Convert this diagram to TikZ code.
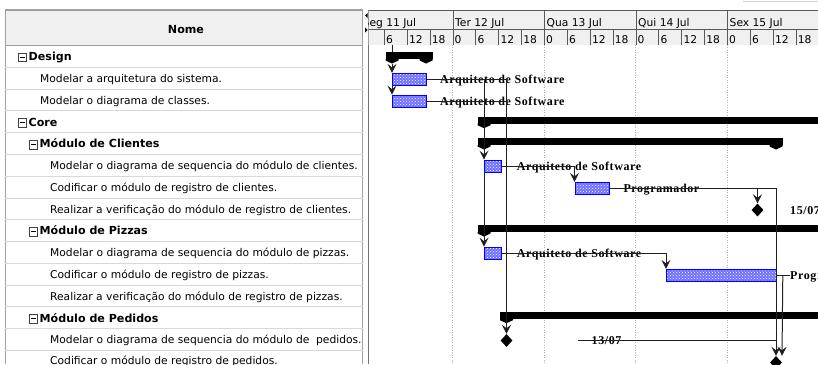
\documentclass[tikz,border=0pt]{standalone}
\usepackage{fontspec}
\setmainfont{DejaVu Sans}
\newfontfamily\lblfont[LetterSpace=5]{Liberation Serif}
\usepackage{tikz}
\usetikzlibrary{arrows.meta,patterns,shapes.geometric}

\definecolor{hdrgray}{HTML}{F0F0F0}
\definecolor{rowgray}{HTML}{D8D8D8}
\definecolor{framegray}{HTML}{A0A0A0}
\definecolor{barblue}{HTML}{7070FF}
\definecolor{linkgray}{HTML}{202020}

\tikzset{
	tname/.style={anchor=base west,inner sep=0pt,font=\fontsize{10.7}{12}\selectfont},
	gname/.style={anchor=base west,inner sep=0pt,font=\fontsize{11.1}{12}\selectfont\bfseries},
	minusbox/.style={draw=black!75,line width=0.7pt,minimum size=8.5pt,inner sep=0pt,
		path picture={\draw[black,line width=0.9pt] ([xshift=1.8pt]path picture bounding box.west) -- ([xshift=-1.8pt]path picture bounding box.east);}},
	scaletxt/.style={anchor=base west,inner sep=0pt,font=\fontsize{10.7}{12}\selectfont},
	taskbar/.style={anchor=west,draw=blue,line width=0.8pt,inner sep=0pt,minimum height=12.4pt,
		preaction={fill=barblue},pattern=crosshatch dots,pattern color=white},
	mstone/.style={diamond,fill=black,inner sep=0pt,minimum width=12pt,minimum height=13pt},
	res/.style={anchor=base west,inner sep=0pt,font=\lblfont\fontsize{12}{13}\selectfont\bfseries},
	link/.style={linkgray,line width=1pt},
	arr/.style={link,-{Stealth[length=9pt,width=9pt,inset=3.5pt]}},
}

% summary bar: name, start, end, top
\newcommand{\sumbar}[4]{%
	\fill (#2-6.5,#4) rectangle (#3+6.5,#4+7);
	\fill (#2-6.5,#4+7) -- (#2-6.5,#4+8.5) -- (#2,#4+11.5) -- (#2+6.5,#4+8.5) -- (#2+6.5,#4+7) -- cycle;
	\fill (#3-6.5,#4+7) -- (#3-6.5,#4+8.5) -- (#3,#4+11.5) -- (#3+6.5,#4+8.5) -- (#3+6.5,#4+7) -- cycle;
	\coordinate (#1-t) at (#2,#4);
	\coordinate (#1-s) at (#2,#4+11.5);
}

\begin{document}
\begin{tikzpicture}[x=1pt,y=-1pt]
	\useasboundingbox (0,0) rectangle (818,364);
	\fill[white] (0,0) rectangle (818,364);
	\draw[gray!35] (743,0.7) -- (818,0.7);
	%
	% table
	\fill[hdrgray] (5,10) rectangle (362.5,45.3);
	\draw[framegray,line width=1.5pt] (5,10) -- (362.5,10);
	\draw[framegray] (5,10) -- (5,364);
	\draw[framegray] (362.5,10) -- (362.5,364);
	\draw[framegray] (5,45.3) -- (362.5,45.3);
	\draw[rowgray] (5,67.07) -- (362.5,67.07) (5,88.84) -- (362.5,88.84) (5,110.6) -- (362.5,110.6)
		(5,132.4) -- (362.5,132.4) (5,154.2) -- (362.5,154.2) (5,175.9) -- (362.5,175.9)
		(5,197.7) -- (362.5,197.7) (5,219.5) -- (362.5,219.5) (5,241.2) -- (362.5,241.2)
		(5,263.0) -- (362.5,263.0) (5,284.8) -- (362.5,284.8) (5,306.5) -- (362.5,306.5)
		(5,328.3) -- (362.5,328.3) (5,350.1) -- (362.5,350.1);
	\node[gname,anchor=base] (nome) at (186,33.3) {Nome};
	\begin{scope}
	\clip (5,45.3) rectangle (362,364);
	\node[minusbox] (b0) at (22.5,57.5) {};
	\node[gname] (t0) at (28.5,60.8) {Design};
	\node[tname] (t1) at (40,82.55) {Modelar a arquitetura do sistema.};
	\node[tname] (t2) at (40,104.3) {Modelar o diagrama de classes.};
	\node[minusbox] (b3) at (22.5,122.8) {};
	\node[gname] (t3) at (28.5,126.1) {Core};
	\node[minusbox] (b4) at (33.5,144.6) {};
	\node[gname] (t4) at (39.5,147.9) {Módulo de Clientes};
	\node[tname] (t5) at (50,169.6) {Modelar o diagrama de sequencia do módulo de clientes.};
	\node[tname] (t6) at (50,191.4) {Codificar o módulo de registro de clientes.};
	\node[tname] (t7) at (50,213.2) {Realizar a verificação do módulo de registro de clientes.};
	\node[minusbox] (b8) at (33.5,231.6) {};
	\node[gname] (t8) at (39.5,234.9) {Módulo de Pizzas};
	\node[tname] (t9) at (50,256.7) {Modelar o diagrama de sequencia do módulo de pizzas.};
	\node[tname] (t10) at (50,278.5) {Codificar o módulo de registro de pizzas.};
	\node[tname] (t11) at (50,300.3) {Realizar a verificação do módulo de registro de pizzas.};
	\node[minusbox] (b12) at (33.5,318.7) {};
	\node[gname] (t12) at (39.5,322.0) {Módulo de Pedidos};
	\node[tname] (t13) at (50,343.8) {Modelar o diagrama de sequencia do módulo de\ \ pedidos.};
	\node[tname] (t14) at (50,364.5) {Codificar o módulo de registro de pedidos.};
	\end{scope}
	%
	% splitter
	\fill (367.5,13) -- (365,15.5) -- (367.5,18) -- cycle;
	\fill (365,27.5) -- (367.5,30) -- (365,32.5) -- cycle;
	\draw[black!55] (368,10) -- (368,364);
	%
	% time scale
	\begin{scope}
	\clip (368.5,8) rectangle (818,364);
	\fill[hdrgray] (368,10) rectangle (818,44.5);
	\draw[black!65] (368,10) -- (818,10);
	\draw[black!65] (368,29.3) -- (818,29.3);
	\draw[black!65] (452.7,10) -- (452.7,44.5) (544.2,10) -- (544.2,44.5) (635.7,10) -- (635.7,44.5) (727.2,10) -- (727.2,44.5);
	\draw[black!65] (384.1,29.3) -- (384.1,44.5) (407,29.3) -- (407,44.5) (429.8,29.3) -- (429.8,44.5);
	\draw[black!65] (475.6,29.3) -- (475.6,44.5) (498.5,29.3) -- (498.5,44.5) (521.3,29.3) -- (521.3,44.5);
	\draw[black!65] (567.1,29.3) -- (567.1,44.5) (590,29.3) -- (590,44.5) (612.8,29.3) -- (612.8,44.5);
	\draw[black!65] (658.6,29.3) -- (658.6,44.5) (681.5,29.3) -- (681.5,44.5) (704.3,29.3) -- (704.3,44.5);
	\draw[black!65] (750.1,29.3) -- (750.1,44.5) (773,29.3) -- (773,44.5) (795.8,29.3) -- (795.8,44.5);
	\node[scaletxt] (d0) at (362.5,26.5) {Seg 11 Jul};
	\node[scaletxt] (d1) at (455,26.5) {Ter 12 Jul};
	\node[scaletxt] (d2) at (546.5,26.5) {Qua 13 Jul};
	\node[scaletxt] (d3) at (638,26.5) {Qui 14 Jul};
	\node[scaletxt] (d4) at (729.5,26.5) {Sex 15 Jul};
	\node[scaletxt] (h06) at (386,43) {6};
	\node[scaletxt] (h012) at (408.8,43) {12};
	\node[scaletxt] (h018) at (431.6,43) {18};
	\node[scaletxt] (h10) at (454.5,43) {0};
	\node[scaletxt] (h16) at (477.4,43) {6};
	\node[scaletxt] (h112) at (500.3,43) {12};
	\node[scaletxt] (h118) at (523.1,43) {18};
	\node[scaletxt] (h20) at (546,43) {0};
	\node[scaletxt] (h26) at (568.9,43) {6};
	\node[scaletxt] (h212) at (591.8,43) {12};
	\node[scaletxt] (h218) at (614.6,43) {18};
	\node[scaletxt] (h30) at (637.5,43) {0};
	\node[scaletxt] (h36) at (660.4,43) {6};
	\node[scaletxt] (h312) at (683.3,43) {12};
	\node[scaletxt] (h318) at (706.1,43) {18};
	\node[scaletxt] (h40) at (729,43) {0};
	\node[scaletxt] (h46) at (751.9,43) {6};
	\node[scaletxt] (h412) at (774.8,43) {12};
	\node[scaletxt] (h418) at (797.6,43) {18};
	\end{scope}
	%
	% chart
	\begin{scope}
	\clip (368.5,44.5) rectangle (818,364);
	\draw[gray!60,line width=1pt,dash pattern=on 1pt off 1.5pt] (452.7,44.5) -- (452.7,364) (544.2,44.5) -- (544.2,364)
		(635.7,44.5) -- (635.7,364) (727.2,44.5) -- (727.2,364);
		% resources
		\node[res] (r-arch) at (440,83.8) {Arquiteto de Software};
		\node[res] (r-classes) at (440,105.6) {Arquiteto de Software};
		\node[res] (r-seqcli) at (516.7,170.6) {Arquiteto de Software};
		\node[res] (r-codcli) at (623.3,192.8) {Programador};
		\node[res] (r-vercli) at (790,214.6) {15/07};
		\node[res] (r-seqpiz) at (516.7,257.6) {Arquiteto de Software};
		\node[res] (r-codpiz) at (790,279.8) {Programador};
		\node[res] (r-seqped) at (591.5,344.9) {13/07};
	%
	\sumbar{design}{392}{426}{52}
		\node[taskbar,minimum width=34pt] (arch) at (392,79.5) {};
		\node[taskbar,minimum width=34pt] (classes) at (392,101.3) {};
	\sumbar{core}{484}{900}{116.7}
	\sumbar{cli}{484}{776}{138}
		\node[taskbar,minimum width=17pt] (seqcli) at (484,166.3) {};
		\node[taskbar,minimum width=34pt] (codcli) at (574.5,188.5) {};
		\node[mstone] (vercli) at (757.5,210) {};
	\sumbar{piz}{484}{900}{225}
		\node[taskbar,minimum width=17pt] (seqpiz) at (484,253.3) {};
		\node[taskbar,minimum width=110pt] (codpiz) at (666,275.5) {};
	\sumbar{ped}{506.5}{900}{311.7}
		\node[mstone] (seqped) at (506.5,340.5) {};
		\node[mstone] (codped) at (776,362.5) {};
	%
	% links
	\coordinate (hdr) at (392,44.5);
	\draw[link] (hdr) -- (design-t);
	\draw[arr] (design-s) -- (arch.north west);
	\draw[arr] (arch.south west) -- (classes.north west);
	\draw[link] (arch.east) -- (arch.east -| ped-t);
	\draw[link] (classes.east) -- (classes.east -| ped-t);
	\draw[arr] (arch.east -| seqcli.west) -- (seqcli.north west);
	\draw[arr] (seqcli.south west) -- (seqpiz.north west);
	\draw[arr] (arch.east -| ped-t) -- (seqped.north);
	\draw[arr] (seqcli.east) -| (codcli.north west);
	\draw[arr] (codcli.east) -| (codped.north);
	\draw[arr] (codcli.east -| vercli) -- (vercli.north);
	\draw[arr] (seqpiz.east) -| (codpiz.north west);
	\draw[link] (codpiz.east) -- (codpiz.east -| r-codpiz.west);
	\draw[arr] ([xshift=6pt]codpiz.east) -- ([xshift=6pt]codped.north);
	\coordinate (ped-l) at (578,340.5);
	\draw[link] (ped-l) -- (ped-l -| codped);
	\end{scope}
\end{tikzpicture}
\end{document}
